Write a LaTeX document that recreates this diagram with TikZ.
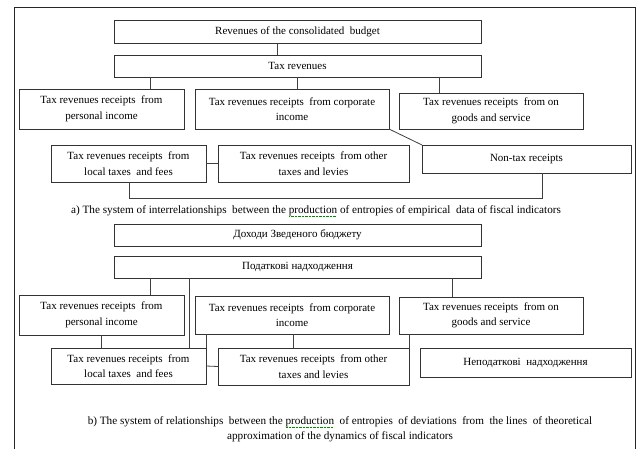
\documentclass[tikz,border=0pt]{standalone}
\usepackage{fontspec}
\setmainfont{Liberation Serif}
\newcommand\bx[6]{\node[box, minimum width={(#4-#2)*1pt}, minimum height={(#5-#3)*1pt}] (#1) at ({(#2+#4)/2},{(#3+#5)/2}) {#6};}
\newsavebox\spbox
\newcommand\spl[1]{\sbox\spbox{#1}\rlap{\color{green!55!black}\leaders\hbox to 1.4pt{\hss\rule[-2.6pt]{0.7pt}{0.6pt}\hss}\hskip\wd\spbox}\usebox\spbox}
\begin{document}
\begin{tikzpicture}[x=1pt,y=-1pt,
 box/.style={draw=black!80, line width=0.8pt, align=center, inner sep=0pt, outer sep=0pt, font=\fontsize{11}{15.5}\selectfont},
 link/.style={draw=black!75, line width=0.8pt},
 captxt/.style={align=center, inner sep=0pt, font=\fontsize{11.2}{15}\selectfont}]
\useasboundingbox (0,0) rectangle (642,449);
\fill[white] (0,0) rectangle (642,449);
\draw[black!85, line width=0.9pt] (14,449) -- (14,7) -- (635,7) -- (635,449);
% part a
\bx{rcb}{114}{20}{481}{43}{Revenues of the consolidated\ \ budget}
\bx{tr}{114}{55}{481}{77}{Tax revenues}
\bx{pi}{19}{89}{184}{129}{Tax revenues receipts\ \ from\\personal income}
\bx{ci}{195}{89}{389}{129}{Tax revenues receipts\ \ from corporate\\income}
\bx{gs}{399}{93}{583}{129}{Tax revenues receipts\ \ from on\\goods and service}
\bx{nt}{422}{145}{631}{173}{Non-tax receipts}
\bx{lt}{51}{145}{206}{182}{Tax revenues receipts\ \ from\\local taxes\ \ and fees}
\bx{ot}{218}{145}{409}{182}{Tax revenues receipts\ \ from other\\taxes and levies}
\draw[link] (277,0 |- rcb.south) -- (277,0 |- tr.north);
\draw[link] (150,0 |- tr.south) -- (150,0 |- pi.north);
\draw[link] (297,0 |- tr.south) -- (297,0 |- ci.north);
\draw[link] (439,0 |- tr.south) -- (439,0 |- gs.north);
\draw[link] (ci.south east) -- (nt.north west);
\draw[link] (lt.east) -- (ot.west);
\draw[link] (129,0 |- lt.south) -- (129,198) -| (542,0 |- nt.south);
\node[captxt] (capa) at (316,211) {a) The system of interrelationships\ \ between the \spl{production} of entropies of empirical\ \ data of fiscal indicators};
% part b
\bx{dzb}{114}{224}{481}{246}{Доходи Зведеного бюджету}
\bx{pn}{114}{256}{481}{278}{Податкові надходження}
\bx{pib}{19}{295}{184}{335}{Tax revenues receipts\ \ from\\personal income}
\bx{cib}{195}{296}{389}{334}{Tax revenues receipts\ \ from corporate\\income}
\bx{gsb}{399}{297}{583}{334}{Tax revenues receipts\ \ from on\\goods and service}
\bx{ltb}{51}{348}{206}{384}{Tax revenues receipts\ \ from\\local taxes\ \ and fees}
\bx{otb}{218}{348}{409}{385}{Tax revenues receipts\ \ from other\\taxes and levies}
\bx{ntb}{420}{348}{631}{377}{Неподаткові\ \ надходження}
\draw[link] (150,0 |- pn.south) -- (150,0 |- pib.north);
\draw[link] (189,0 |- pn.south) -- (189,0 |- ltb.north);
\draw[link] (452,0 |- pn.south) -- (452,0 |- gsb.north);
\draw[link] (101,0 |- pib.south) -- (101,0 |- ltb.north);
\draw[link] (206,0 |- cib.south) -- (ltb.north east);
\draw[link] (293,0 |- cib.south) -- (293,0 |- otb.north);
\draw[link] (409,0 |- gsb.south) -- (otb.north east);
\draw[link] (ltb.east) -- (otb.west);
\node[captxt] (capb) at (340,429.5) {b) The system of relationships\ \ between the \spl{production}\ \ of entropies\ \ of deviations\ \ from\ \ the lines\ \ of theoretical\\approximation of the dynamics of fiscal indicators};
\end{tikzpicture}
\end{document}
